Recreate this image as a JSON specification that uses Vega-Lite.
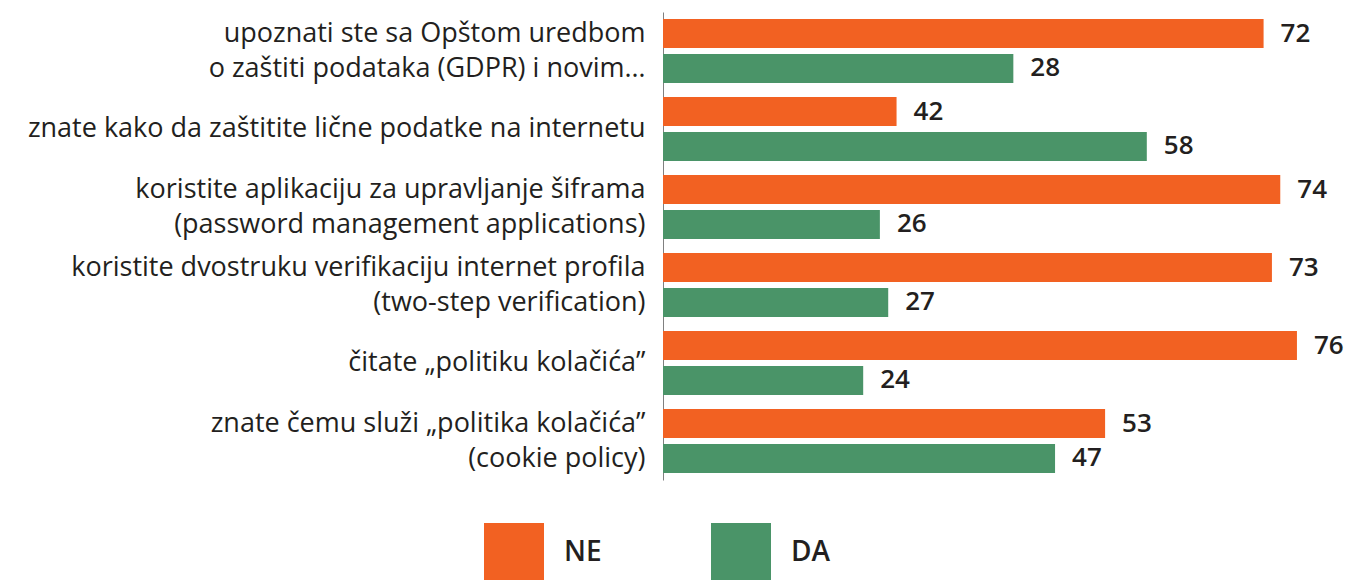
{
  "$schema": "https://vega.github.io/schema/vega-lite/v6.json",
  "autosize": {"type": "none"},
  "padding": {"left": 663, "top": 12, "right": 0, "bottom": 100},
  "width": 684,
  "height": 468,
  "background": "white",
  "config": {
    "view": {"stroke": null},
    "font": "Open Sans"
  },
  "data": {
    "values": [
      {"cat": "upoznati ste sa Opštom uredbom|o zaštiti podataka (GDPR) i novim…", "series": "NE", "length": 72, "value": "72"},
      {"cat": "upoznati ste sa Opštom uredbom|o zaštiti podataka (GDPR) i novim…", "series": "DA", "length": 42, "value": "28"},
      {"cat": "znate kako da zaštitite lične podatke na internetu", "series": "NE", "length": 28, "value": "42"},
      {"cat": "znate kako da zaštitite lične podatke na internetu", "series": "DA", "length": 58, "value": "58"},
      {"cat": "koristite aplikaciju za upravljanje šiframa|(password management applications)", "series": "NE", "length": 74, "value": "74"},
      {"cat": "koristite aplikaciju za upravljanje šiframa|(password management applications)", "series": "DA", "length": 26, "value": "26"},
      {"cat": "koristite dvostruku verifikaciju internet profila|(two-step verification)", "series": "NE", "length": 73, "value": "73"},
      {"cat": "koristite dvostruku verifikaciju internet profila|(two-step verification)", "series": "DA", "length": 27, "value": "27"},
      {"cat": "čitate „politiku kolačića”", "series": "NE", "length": 76, "value": "76"},
      {"cat": "čitate „politiku kolačića”", "series": "DA", "length": 24, "value": "24"},
      {"cat": "znate čemu služi „politika kolačića”|(cookie policy)", "series": "NE", "length": 53, "value": "53"},
      {"cat": "znate čemu služi „politika kolačića”|(cookie policy)", "series": "DA", "length": 47, "value": "47"}
    ]
  },
  "encoding": {
    "y": {
      "field": "cat",
      "type": "nominal",
      "sort": null,
      "scale": {"paddingInner": 0, "paddingOuter": 0},
      "axis": {
        "title": null,
        "ticks": false,
        "grid": false,
        "domain": true,
        "domainColor": "#808080",
        "domainWidth": 1,
        "labelPadding": 18,
        "labelFontSize": 27,
        "labelColor": "#231f20",
        "labelLimit": 700,
        "labelLineHeight": 35,
        "labelExpr": "split(datum.label, '|')",
        "labelOffset": {"condition": {"test": "indexof(datum.value, '|') >= 0", "value": -17.5}, "value": 0}
      }
    },
    "yOffset": {
      "field": "series",
      "type": "nominal",
      "sort": ["NE", "DA"],
      "scale": {"paddingInner": 0.171, "paddingOuter": 0.2}
    },
    "x": {
      "field": "length",
      "type": "quantitative",
      "scale": {"domain": [0, 82], "nice": false},
      "axis": null
    }
  },
  "layer": [
    {
      "mark": {"type": "bar"},
      "encoding": {
        "color": {
          "field": "series",
          "type": "nominal",
          "scale": {"domain": ["NE", "DA"], "range": ["#f26122", "#4a9468"]},
          "legend": {
            "title": null,
            "orient": "none",
            "direction": "horizontal",
            "legendX": -179,
            "legendY": 511,
            "symbolType": "square",
            "symbolSize": 3600,
            "symbolStrokeWidth": 0,
            "symbolOpacity": 1,
            "labelFontSize": 28,
            "labelFontWeight": 600,
            "labelColor": "#231f20",
            "labelOffset": 20,
            "columnPadding": 109,
            "padding": 0
          }
        }
      }
    },
    {
      "mark": {"type": "text", "align": "left", "baseline": "middle", "dx": 17, "fontSize": 26, "fontWeight": 600, "color": "#231f20"},
      "encoding": {
        "text": {"field": "value", "type": "nominal"}
      }
    }
  ]
}
